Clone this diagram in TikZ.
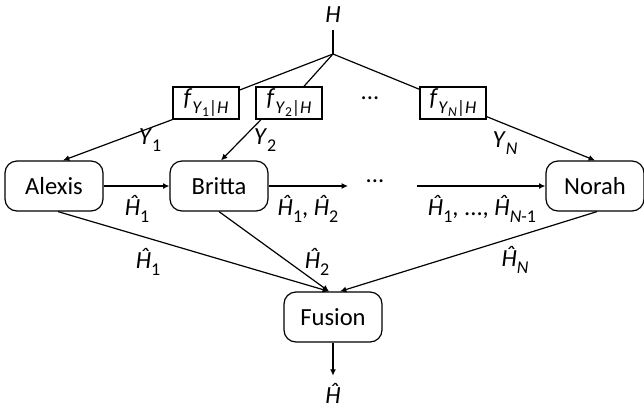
\documentclass[tikz,border=0pt]{standalone}
\usepackage{fontspec}
\setmainfont{Carlito}
\usepackage{tikz}
\usetikzlibrary{arrows.meta}
\newcommand{\lowsub}[1]{\raisebox{-.3em}{\fontsize{9}{10}\selectfont #1}}
\newcommand{\lowsubsub}[1]{\raisebox{-.2em}{\fontsize{6.8}{8}\selectfont #1}}
\newcommand{\hatH}[1]{\textit{\^{H}}\lowsub{#1}}
\newcommand{\fY}[1]{\textit{f}\lowsub{\textit{Y}\lowsubsub{#1}|\textit{H}}}
\begin{document}
\begin{tikzpicture}[x=.5pt, y=-.5pt, line width=.6pt,
    font=\fontsize{12.3}{14}\selectfont, >={Latex[length=3.2pt, width=3pt]},
    agent/.style={draw, rounded corners=6pt, minimum width=49pt, minimum height=25pt, inner sep=0pt},
    channel/.style={draw, minimum width=33pt, minimum height=16pt, inner sep=0pt}]
    \useasboundingbox (0, 0) rectangle (644, 414);

    \path (333, 15) node (H) {\textit{H}};
    \coordinate (split) at (333, 54);
    \draw (H) -- (split);

    \path (206, 103) node[channel] (f1) {\fY{1}};
    \path (289, 103) node[channel] (f2) {\fY{2}};
    \path (370, 98) node (fdots) {...};
    \path (453, 103) node[channel] (fN) {\fY{\textit{N}}};
    \draw (split) -- (f1);
    \draw (split) -- (f2);
    \draw (split) -- (fN);

    \path (54, 186) node[agent] (alexis) {Alexis};
    \path (219, 186) node[agent] (britta) {Britta};
    \path (595, 186) node[agent] (norah) {Norah};
    \path (333, 317) node[agent] (fusion) {Fusion};

    \draw[->] (f1.south west) -- ([xshift=4.5pt] alexis.north);
    \draw[->] ([xshift=-14pt] f2.south) -- ([xshift=1pt] britta.north);
    \draw[->] ([yshift=1.5pt] fN.south east) -- (norah.north);
    \path (150, 140) node (y1) {\textit{Y}\lowsub{1}};
    \path (265, 140) node (y2) {\textit{Y}\lowsub{2}};
    \path (505, 143) node (yN) {\textit{Y}\lowsub{\textit{N}}};

    \coordinate (relay1) at (348, 186);
    \coordinate (relay2) at (417, 186);
    \path (375, 181) node (rdots) {...};
    \draw[->] (alexis) -- (britta);
    \draw[->] (britta) -- (relay1);
    \draw[->] (relay2) -- (norah);
    \path (137, 209) node (m1) {\hatH{1}};
    \path (308, 209) node (m2) {\hatH{1}, \hatH{2}};
    \path (482, 209) node (mN) {\hatH{1}, ..., \hatH{\textit{N}-1}};

    \draw[->] ([xshift=2pt] alexis.south) -- ([xshift=-2pt] fusion.north);
    \draw[->] (britta.south) -- ([xshift=-2pt] fusion.north);
    \draw[->] ([xshift=1pt] norah.south) -- ([xshift=3.5pt] fusion.north);
    \path (148, 262) node (e1) {\hatH{1}};
    \path (317, 262) node (e2) {\hatH{2}};
    \path (515, 260) node (eN) {\hatH{\textit{N}}};

    \path (333, 393) node (Hhat) {\textit{\^{H}}};
    \draw[->] (fusion) -- (Hhat);
\end{tikzpicture}
\end{document}
